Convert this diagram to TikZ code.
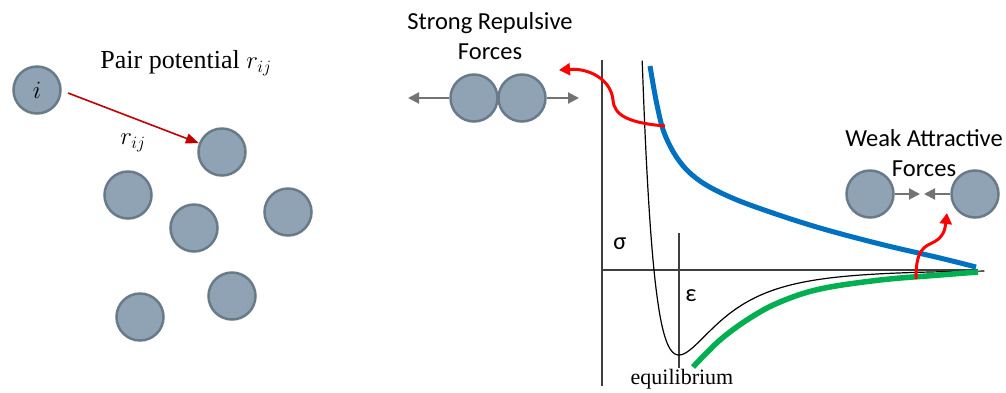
\documentclass[tikz,border=0pt]{standalone}
\usepackage{fontspec}
\setmainfont{Carlito}
\newfontfamily\tnr{Liberation Serif}
\newfontfamily\cam{Liberation Serif}
\usetikzlibrary{arrows.meta}
\definecolor{ballfill}{HTML}{8FA3B4}
\definecolor{balledge}{HTML}{697A88}
\definecolor{arrgray}{HTML}{737373}
\definecolor{axgray}{HTML}{3F3F3F}
\definecolor{curveblue}{HTML}{0070C0}
\definecolor{curvegreen}{HTML}{00B050}
\definecolor{darkred}{HTML}{C00000}
\tikzset{
  ball/.style={circle, draw=balledge, fill=ballfill, line width=2.5pt, minimum size=47pt, inner sep=0pt},
  grayarr/.style={draw=arrgray, line width=2pt, -{Triangle[length=11pt,width=11pt]}},
  redarr/.style={draw=red, line width=3pt, -{Triangle[length=11pt,width=12pt]}},
  axis/.style={draw=axgray, line width=1.4pt},
  lbl/.style={font=\fontsize{24.5}{30}\selectfont, inner sep=0pt},
}
\begin{document}
\begin{tikzpicture}[x=1pt,y=-1pt]
\useasboundingbox (0,0) rectangle (1006,392);
% left panel
\node[ball] (i) at (37,90) {\fontsize{24}{28}\selectfont$i$};
\node[ball] (j) at (222,152) {};
\node[ball] (b1) at (128,195) {};
\node[ball] (b2) at (194,228) {};
\node[ball] (b3) at (288,212) {};
\node[ball] (b4) at (140,317) {};
\node[ball] (b5) at (232,296) {};
\node[lbl, font=\fontsize{26}{30}\cam] (pp) at (186,63) {Pair potential $r_{ij}$};
\node[lbl] (rij) at (133,143) {\fontsize{26}{30}\selectfont$r_{ij}$};
\draw[draw=darkred, line width=1.6pt, -{Triangle[length=13pt,width=10pt]}] (68,93) -- (j);
% axes
\coordinate (yt) at (602,60);
\coordinate (yb) at (602,386);
\coordinate (xr) at (978,270);
\draw[axis] (yt) -- (yb);
\draw[axis] (602,270) -- (xr);
\coordinate (et) at (679,233);
\coordinate (eb) at (679,368);
\draw[axis, line width=1.2pt] (et) -- (eb);
% LJ curve
\draw[black, line width=1.2pt] plot[domain=0.942:2.62, samples=220, smooth] ({450+204*\x}, {270-340*((1/\x)^12-(1/\x)^6)});
% blue repulsive
\draw[curveblue, line width=5pt] plot[smooth, tension=0.6] coordinates {(650,66) (657,105) (665,135) (680,162) (700,181) (730,197) (770,212) (820,228) (880,244) (940,258) (976,267)};
% green attractive
\draw[curvegreen, line width=5.5pt] plot[smooth, tension=0.6] coordinates {(693,367) (720,340) (750,318) (780,302) (820,289) (880,280) (940,275) (978,272)};
% labels
\node[lbl] (sig) at (620,244) {σ};
\node[lbl] (eps) at (691,296) {ε};
\node[lbl, font=\fontsize{22}{26}\tnr] (eq) at (682,379) {equilibrium};
% repulsive
\node[lbl, align=center] (srf) at (490,36) {Strong Repulsive\\Forces};
\node[ball] (r1) at (474,98) {};
\node[ball] (r2) at (522,98) {};
\coordinate (rl) at (408,98);
\coordinate (rr) at (579,98);
\draw[grayarr] (r1) -- (rl);
\draw[grayarr] (r2) -- (rr);
\coordinate (rs) at (665,126);
\coordinate (re) at (559,70);
\draw[redarr] (rs) .. controls (630,123) and (614,116) .. (613,100) .. controls (611,80) and (590,68) .. (re);
% attractive
\node[lbl, align=center] (waf) at (924,153) {Weak Attractive\\Forces};
\node[ball] (a1) at (870,194) {};
\node[ball] (a2) at (975,194) {};
\coordinate (am) at (922,194);
\draw[grayarr] (a1) -- (920,194);
\draw[grayarr] (a2) -- (924,194);
\coordinate (as) at (916,279);
\coordinate (ae) at (947,213);
\draw[redarr] (as) .. controls (916,256) and (920,248) .. (932,243) .. controls (943,238) and (945,230) .. (ae);
\end{tikzpicture}
\end{document}
